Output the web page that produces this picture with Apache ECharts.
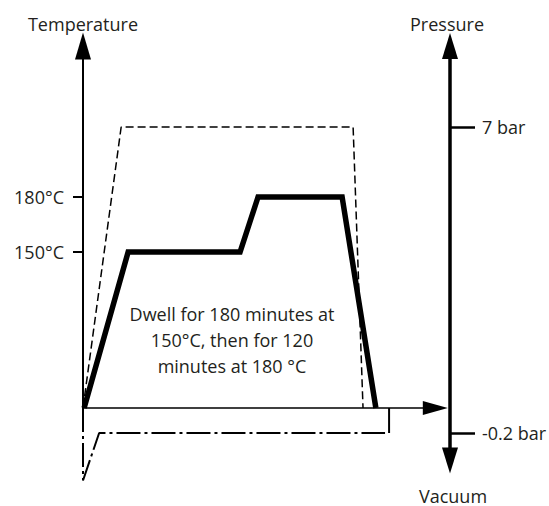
<!DOCTYPE html>
<html>
<head>
<meta charset="utf-8">
<script src="https://cdn.jsdelivr.net/npm/echarts@6/dist/echarts.min.js"></script>
<style>
html,body{margin:0;padding:0;background:#fff;}
#chart{width:549px;height:506px;}
</style>
</head>
<body>
<div id="chart"></div>
<script>
// ---- Data (schematic time units) ----
const timeTemp = [0.3, 12.3, 42.8, 47.7, 70.6, 79.8];
const temperature = [65, 150, 150, 180, 180, 65];
const timePress = [0, 10.4, 73.6, 76.3];
const pressure = [0, 7, 7, 0];
const timeVac = [0, 0, 4.4, 82.3];
const vacuum = [0, -0.58, -0.2, -0.2];
const timeRelease = [83.4, 83.4];
const release = [-0.2, 0];
const tempTicks = [150, 180];
const pressTicks = [7];
const vacTicks = [-0.2];
const tempLabel = v => v + '°C';
const pressLabel = v => v + ' bar';
const note = ['Dwell for 180 minutes at', '150°C, then for 120', 'minutes at 180 °C'];

const zip = (xs, ys) => xs.map((x, i) => [x, ys[i]]);
const FONT = '"Open Sans", "Noto Sans", sans-serif';
const TXT = '#231f20';
const FS = 18;

const chart = echarts.init(document.getElementById('chart'), null, {renderer: 'svg'});
chart.setOption({
  animation: false,
  backgroundColor: '#fff',
  grid: [
    {left: 83, top: 46, width: 352.32, height: 362, outerBoundsMode: 'none', containLabel: false},
    {left: 83, top: 46, width: 367, height: 414.5, outerBoundsMode: 'none', containLabel: false}
  ],
  xAxis: [
    {gridIndex: 0, type: 'value', min: 0, max: 96, position: 'bottom',
     axisLine: {show: true, onZero: false, symbol: ['none', 'triangle'], symbolSize: [14, 25],
                lineStyle: {color: '#000', width: 1.6}},
     axisTick: {show: false}, axisLabel: {show: false}, splitLine: {show: false}},
    {gridIndex: 1, type: 'value', min: 0, max: 100, show: false}
  ],
  yAxis: [
    {gridIndex: 0, type: 'value', min: 65, max: 262.24, position: 'left',
     name: 'Temperature', nameLocation: 'end', nameGap: 13,
     nameTextStyle: {color: TXT, fontSize: FS, fontFamily: FONT, align: 'center'},
     axisLine: {show: true, onZero: false, symbol: ['none', 'triangle'], symbolSize: [16, 27],
                lineStyle: {color: '#000', width: 2}},
     axisTick: {show: true, inside: false, length: 10, customValues: tempTicks,
                lineStyle: {color: '#000', width: 2}},
     axisLabel: {show: true, margin: 19, customValues: tempTicks, formatter: tempLabel,
                 color: TXT, fontSize: FS, fontFamily: FONT},
     splitLine: {show: false}},
    {gridIndex: 1, type: 'value', min: -1.308, max: 9.018, position: 'right',
     name: 'Pressure', nameLocation: 'end', nameGap: 13,
     nameTextStyle: {color: TXT, fontSize: FS, fontFamily: FONT, align: 'center', padding: [0, 6, 0, 0]},
     axisLine: {show: true, onZero: false, symbol: ['triangle', 'triangle'], symbolSize: [16, 26],
                lineStyle: {color: '#000', width: 3.5}},
     axisTick: {show: true, inside: false, length: 25, customValues: pressTicks,
                lineStyle: {color: '#000', width: 2.5}},
     axisLabel: {show: true, margin: 32, customValues: pressTicks, formatter: pressLabel,
                 color: TXT, fontSize: FS, fontFamily: FONT},
     splitLine: {show: false}},
    {gridIndex: 1, type: 'value', min: -0.42, max: 2.896, position: 'right',
     name: 'Vacuum', nameLocation: 'start', nameGap: 26,
     nameTextStyle: {color: TXT, fontSize: FS, fontFamily: FONT, align: 'center', padding: [0, 0, 0, 6]},
     axisLine: {show: true, onZero: false, symbol: ['none', 'none'],
                lineStyle: {color: 'rgba(0,0,0,0)', width: 0.1}},
     axisTick: {show: true, inside: false, length: 25, customValues: vacTicks,
                lineStyle: {color: '#000', width: 2.5}},
     axisLabel: {show: true, margin: 32, customValues: vacTicks, formatter: pressLabel,
                 color: TXT, fontSize: FS, fontFamily: FONT},
     splitLine: {show: false}}
  ],
  series: [
    {type: 'line', name: 'Pressure', xAxisIndex: 1, yAxisIndex: 1, data: zip(timePress, pressure),
     showSymbol: false, clip: false, z: 3,
     lineStyle: {color: '#000', width: 1.5, type: [8, 4]}},
    {type: 'line', name: 'Vacuum', xAxisIndex: 1, yAxisIndex: 2, data: zip(timeVac, vacuum),
     showSymbol: false, clip: false, z: 3,
     lineStyle: {color: '#000', width: 2, type: [24, 4, 3, 4]}},
    {type: 'line', name: 'Release', xAxisIndex: 1, yAxisIndex: 2, data: zip(timeRelease, release),
     showSymbol: false, clip: false, z: 3,
     lineStyle: {color: '#000', width: 2}},
    {type: 'line', name: 'Temperature', xAxisIndex: 0, yAxisIndex: 0, data: zip(timeTemp, temperature),
     showSymbol: false, clip: false, z: 4,
     lineStyle: {color: '#000', width: 5.5, join: 'miter', cap: 'butt'}}
  ],
  graphic: [
    {type: 'text', x: 232, y: 301, z: 10,
     style: {text: note.join('\n'), textAlign: 'center', textVerticalAlign: 'top',
             font: '18px ' + FONT, lineHeight: 26, fill: TXT}}
  ]
});
</script>
</body>
</html>
